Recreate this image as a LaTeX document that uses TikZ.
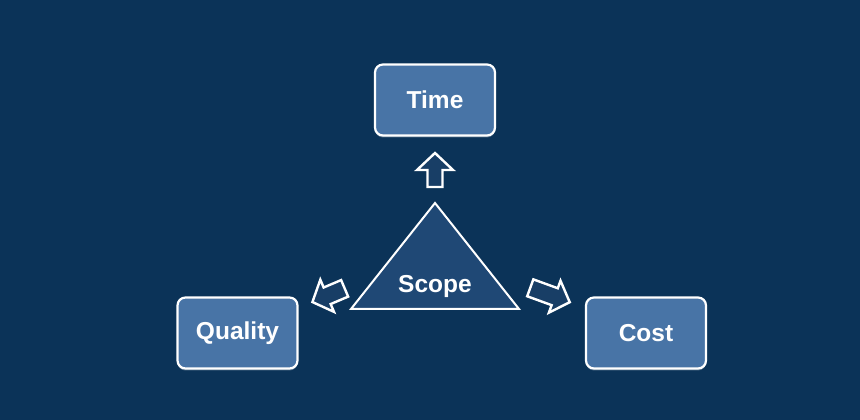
\documentclass[tikz,border=0pt]{standalone}
\usepackage{fontspec}
\setmainfont{Liberation Sans}
\usetikzlibrary{positioning,shadows}
\definecolor{bgblue}{RGB}{11,51,88}
\definecolor{boxblue}{RGB}{72,116,166}
\definecolor{triblue}{RGB}{31,72,117}
\definecolor{arrblue}{RGB}{24,62,102}

\begin{document}
\begin{tikzpicture}[x=1pt,y=1pt,
  ptbox/.style={draw=white,line width=2.2pt,fill=boxblue,rounded corners=8pt,
    minimum width=120pt,minimum height=71pt,text=white,
    font=\fontsize{24.5}{27}\selectfont\bfseries,
    drop shadow={shadow xshift=0pt,shadow yshift=-2pt,fill=white,opacity=0.3}},
  blockarrow/.style={draw=white,line width=2.4pt,fill=arrblue,line join=miter},
  lbl/.style={text=white,font=\fontsize{24.5}{27}\selectfont\bfseries}]
% Background
\fill[bgblue] (0,0) rectangle (860,420);
% The three constraints
\node[ptbox] (time) at (435,320) {Time};
\node[ptbox] (quality) at (237.5,87) {Quality};
\node[ptbox] (cost) at (646,87) {Cost};
% Scope triangle
\coordinate (apex) at (435,217);
\coordinate (baseL) at (351,111);
\coordinate (baseR) at (519,111);
\draw[draw=white,line width=2pt,fill=triblue,line join=miter] (apex) -- (baseR) -- (baseL) -- cycle;
\node[lbl] (scope) at (435,134) {Scope};
% Block arrows
\draw[blockarrow,shift={(435,250)},rotate=90]
  (-17,-7.5) -- (0,-7.5) -- (0,-18) -- (17,0) -- (0,18) -- (0,7.5) -- (-17,7.5) -- cycle;
\draw[blockarrow,shift={(329,125)},rotate=203]
  (-17,-9) -- (2,-9) -- (2,-17.5) -- (18,0) -- (2,17.5) -- (2,9) -- (-17,9) -- cycle;
\draw[blockarrow,shift={(550,125)},rotate=-20]
  (-21,-9) -- (5,-9) -- (5,-17) -- (21,0) -- (5,17) -- (5,9) -- (-21,9) -- cycle;
\end{tikzpicture}
\end{document}
